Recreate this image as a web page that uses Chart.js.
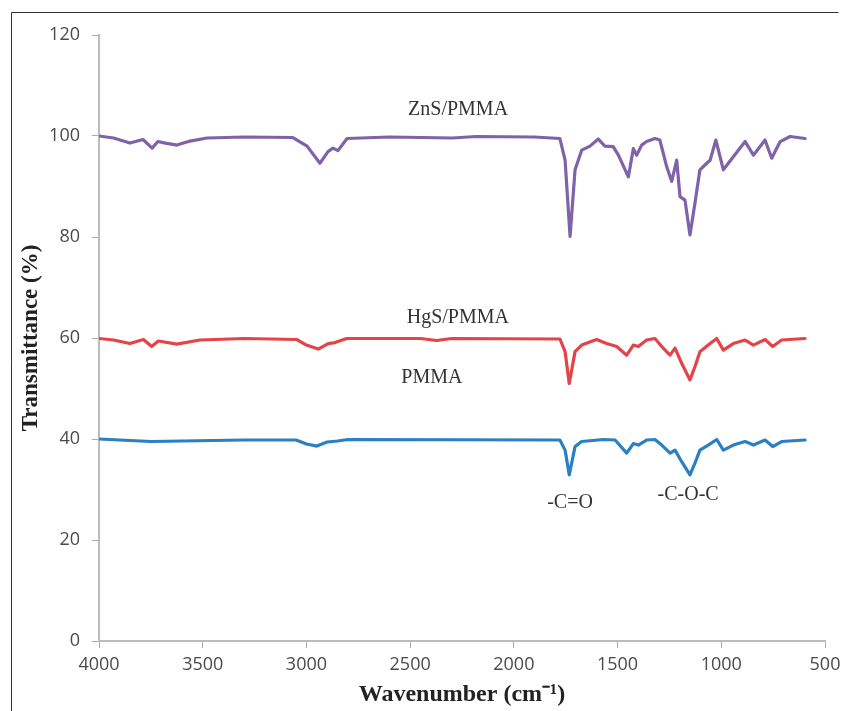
<!DOCTYPE html>
<html>
<head>
<meta charset="utf-8">
<script src="https://cdn.jsdelivr.net/npm/chart.js@4.4.1/dist/chart.umd.min.js"></script>
<style>
  html, body { margin: 0; padding: 0; background: #fff; }
  #wrap { width: 841px; height: 711px; position: relative; }
</style>
</head>
<body>
<div id="wrap"><canvas id="ftir"></canvas></div>
<script>
// FTIR spectra, wavenumber (cm-1) vs transmittance (%)
const znsWn = [4000, 3930, 3851, 3788, 3744, 3716, 3680, 3624, 3561, 3479, 3300, 3065, 2997, 2935, 2896, 2872, 2848, 2804, 2600, 2296, 2184, 1900, 1778, 1753, 1729, 1705, 1673, 1633, 1593, 1561, 1521, 1496, 1448, 1424, 1408, 1384, 1360, 1320, 1296, 1263, 1239, 1215, 1199, 1175, 1151, 1127, 1103, 1070, 1054, 1026, 990, 942, 885, 845, 789, 757, 716, 668, 596];
const znsT  = [100, 99.6, 98.6, 99.3, 97.6, 98.9, 98.6, 98.2, 99.0, 99.6, 99.8, 99.7, 98.0, 94.6, 96.9, 97.6, 97.1, 99.5, 99.8, 99.6, 99.9, 99.8, 99.5, 95.2, 80.1, 93.3, 97.2, 98.0, 99.4, 98.0, 97.9, 96.2, 91.9, 97.5, 96.2, 98.2, 98.9, 99.5, 99.2, 93.9, 91.0, 95.2, 88.0, 87.3, 80.4, 86.7, 93.3, 94.6, 95.2, 99.2, 93.3, 95.9, 98.9, 96.2, 99.2, 95.6, 98.9, 99.9, 99.5];

const hgsWn = [4000, 3930, 3851, 3786, 3746, 3714, 3625, 3513, 3300, 3047, 3000, 2943, 2895, 2862, 2806, 2450, 2372, 2300, 1778, 1753, 1733, 1705, 1673, 1601, 1553, 1504, 1456, 1424, 1400, 1360, 1320, 1287, 1247, 1223, 1191, 1151, 1127, 1103, 1063, 1022, 990, 942, 885, 845, 789, 752, 709, 596];
const hgsT  = [59.9, 59.6, 58.9, 59.7, 58.3, 59.4, 58.8, 59.6, 59.9, 59.7, 58.6, 57.8, 58.9, 59.1, 59.9, 59.9, 59.5, 59.9, 59.8, 57.3, 51.0, 57.3, 58.6, 59.7, 58.9, 58.3, 56.6, 58.6, 58.3, 59.6, 59.9, 58.3, 56.6, 58.0, 55.0, 51.7, 54.3, 57.3, 58.6, 59.9, 57.6, 58.9, 59.6, 58.6, 59.7, 58.3, 59.6, 59.9];

const pmmaWn = [4000, 3850, 3750, 3600, 3300, 3050, 3000, 2950, 2900, 2850, 2800, 1778, 1753, 1733, 1705, 1673, 1569, 1512, 1456, 1424, 1400, 1360, 1320, 1287, 1247, 1223, 1191, 1151, 1127, 1103, 1063, 1022, 990, 942, 885, 845, 789, 752, 709, 596];
const pmmaT  = [40, 39.7, 39.5, 39.6, 39.8, 39.8, 39.0, 38.6, 39.4, 39.6, 39.9, 39.8, 37.8, 32.9, 38.5, 39.5, 39.9, 39.8, 37.2, 39.1, 38.8, 39.8, 39.9, 38.8, 37.2, 37.8, 35.5, 32.9, 35.2, 37.8, 38.8, 39.9, 37.8, 38.8, 39.5, 38.8, 39.8, 38.5, 39.5, 39.8];

const seriesNames = ['ZnS/PMMA', 'HgS/PMMA', 'PMMA'];
const seriesColors = ['#7F62A8', '#E2444A', '#2B7FC2'];

// text labels placed in data space
const noteText = ['ZnS/PMMA', 'HgS/PMMA', 'PMMA', '-C=O', '-C-O-C'];
const noteWn   = [2269, 2270, 2395, 1729, 1160];
const noteT    = [105.1, 64.0, 52.1, 27.3, 28.9];

function toPoints(xs, ys) {
    return xs.map((x, i) => ({ x: x, y: ys[i] }));
}

const frameAndNotes = {
    id: 'frameAndNotes',
    beforeDraw(chart) {
        const ctx = chart.ctx;
        ctx.save();
        ctx.fillStyle = '#fff';
        ctx.fillRect(0, 0, chart.width, chart.height);
        ctx.strokeStyle = '#333';
        ctx.lineWidth = 1;
        ctx.beginPath();
        ctx.moveTo(11.5, chart.height);
        ctx.lineTo(11.5, 12.5);
        ctx.lineTo(838.5, 12.5);
        ctx.stroke();
        ctx.restore();
    },
    afterDatasetsDraw(chart) {
        const ctx = chart.ctx;
        const xs = chart.scales.x, ys = chart.scales.y;
        ctx.save();
        ctx.fillStyle = '#333';
        ctx.font = '20px "Liberation Serif", serif';
        ctx.textAlign = 'center';
        ctx.textBaseline = 'middle';
        noteText.forEach((t, i) => {
            ctx.fillText(t, xs.getPixelForValue(noteWn[i]), ys.getPixelForValue(noteT[i]));
        });
        ctx.restore();
    }
};

const fixBox = (w, h) => scale => {
    if (w) scale.width = w;
    if (h) scale.height = h;
    scale.paddingLeft = 0;
    scale.paddingRight = 0;
    scale.paddingTop = 0;
    scale.paddingBottom = 0;
};

const ctx = document.getElementById('ftir').getContext('2d');
new Chart(ctx, {
    type: 'line',
    data: {
        datasets: [
            { label: seriesNames[0], data: toPoints(znsWn, znsT), borderColor: seriesColors[0] },
            { label: seriesNames[1], data: toPoints(hgsWn, hgsT), borderColor: seriesColors[1] },
            { label: seriesNames[2], data: toPoints(pmmaWn, pmmaT), borderColor: seriesColors[2] }
        ]
    },
    options: {
        responsive: true,
        maintainAspectRatio: false,
        animation: false,
        layout: { padding: { left: 0, top: 35, right: 16, bottom: 0 } },
        elements: {
            line: { borderWidth: 3.2, tension: 0, borderJoinStyle: 'round', borderCapStyle: 'round' },
            point: { radius: 0 }
        },
        scales: {
            x: {
                type: 'linear',
                reverse: true,
                min: 500,
                max: 4000,
                afterFit: fixBox(null, 70),
                ticks: {
                    stepSize: 500,
                    color: '#4a4a4a',
                    padding: 6,
                    callback: v => String(v),
                    font: { family: '"Open Sans", sans-serif', size: 18 }
                },
                grid: { drawOnChartArea: false, drawTicks: true, tickLength: 7, color: '#aaa' },
                border: { color: '#bbb', width: 2 },
                title: {
                    display: true,
                    text: 'Wavenumber (cm\u207B\u00B9)',
                    color: '#222',
                    padding: { top: 0, bottom: 2 },
                    font: { family: '"Liberation Serif", serif', size: 24, weight: 'bold' }
                }
            },
            y: {
                min: 0,
                max: 120,
                afterFit: fixBox(99, null),
                ticks: {
                    stepSize: 20,
                    color: '#4a4a4a',
                    padding: 12,
                    font: { family: '"Open Sans", sans-serif', size: 18 }
                },
                grid: { drawOnChartArea: false, drawTicks: true, tickLength: 7, color: '#aaa' },
                border: { color: '#bbb', width: 2 },
                title: {
                    display: true,
                    text: 'Transmittance (%)',
                    color: '#222',
                    padding: { top: 17, bottom: 0 },
                    font: { family: '"Liberation Serif", serif', size: 23, weight: 'bold' }
                }
            }
        },
        plugins: {
            legend: { display: false },
            tooltip: { enabled: false }
        }
    },
    plugins: [frameAndNotes]
});
</script>
</body>
</html>
